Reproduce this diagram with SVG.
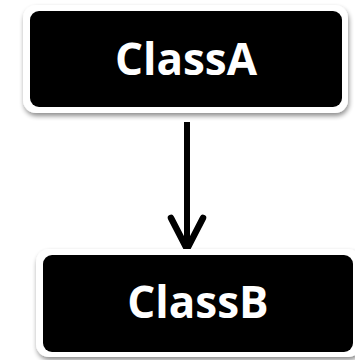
<svg xmlns="http://www.w3.org/2000/svg" width="355" height="360" viewBox="0 0 355 360">
  <style>
    .frame { fill: #ffffff; }
    .box { fill: #000000; }
    .label { font-family: "Open Sans", "Liberation Sans", sans-serif; font-weight: bold; font-size: 44px; fill: #ffffff; text-anchor: middle; }
    .link { stroke: #000000; stroke-width: 6; fill: none; }
    .head { stroke: #000000; stroke-width: 6.5; fill: none; stroke-linecap: round; stroke-linejoin: round; }
  </style>
  <defs>
    <filter id="shadow" x="-10%" y="-10%" width="130%" height="140%">
      <feGaussianBlur in="SourceAlpha" stdDeviation="2.5"/>
      <feOffset dx="1" dy="3" result="b"/>
      <feComponentTransfer><feFuncA type="linear" slope="0.45"/></feComponentTransfer>
      <feMerge><feMergeNode/><feMergeNode in="SourceGraphic"/></feMerge>
    </filter>
  </defs>
  <rect width="355" height="360" fill="#ffffff"/>

  <g id="connectors">
    <line class="link" x1="187" y1="122" x2="187" y2="248"/>
    <polyline class="head" points="171,218 187,249 203,218"/>
  </g>

  <g id="classA">
    <rect class="frame" x="23" y="5" width="325" height="108" rx="13" filter="url(#shadow)"/>
    <rect class="box" x="30" y="11" width="312" height="96" rx="9"/>
    <text class="label" x="186" y="75">ClassA</text>
  </g>

  <g id="classB">
    <rect class="frame" x="36" y="249" width="325" height="108" rx="13" filter="url(#shadow)"/>
    <rect class="box" x="43" y="255" width="310" height="97" rx="9"/>
    <text class="label" x="198" y="318">ClassB</text>
  </g>
</svg>
